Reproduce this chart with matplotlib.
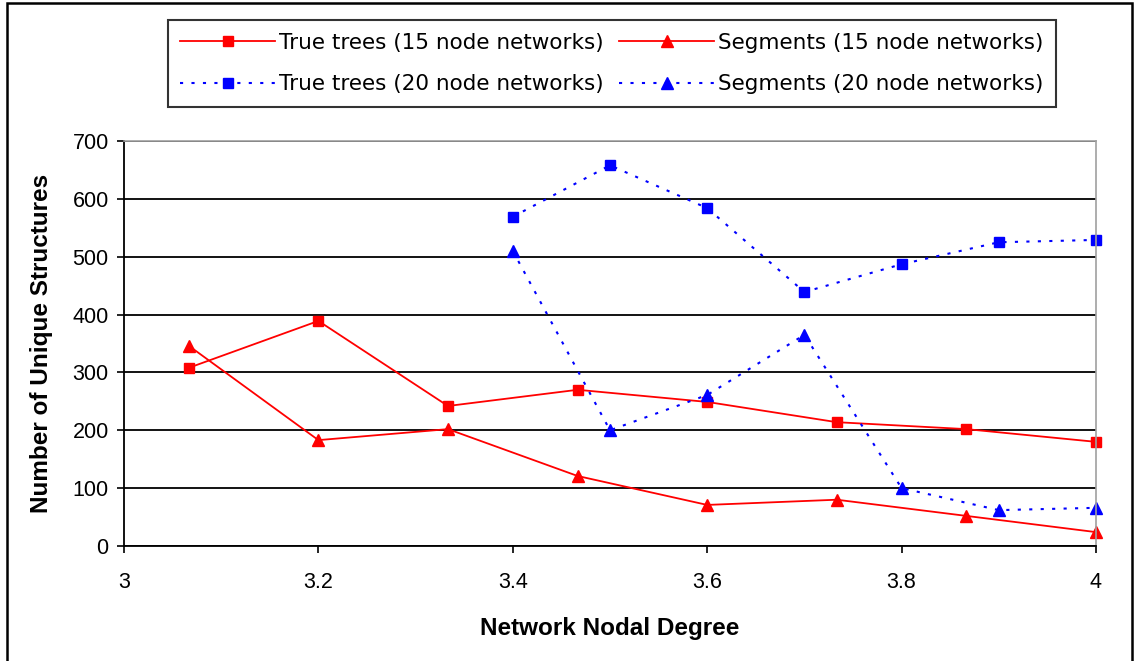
import matplotlib
matplotlib.use("Agg")
import matplotlib.pyplot as plt
from matplotlib.patches import Rectangle

plt.rcParams['font.family'] = ['Liberation Sans', 'DejaVu Sans']

x15 = [3.0667, 3.2, 3.3333, 3.4667, 3.6, 3.7333, 3.8667, 4.0]
trees15 = [308, 389, 242, 270, 249, 214, 202, 180]
segs15 = [346, 183, 202, 121, 71, 80, 52, 24]

x20 = [3.4, 3.5, 3.6, 3.7, 3.8, 3.9, 4.0]
trees20 = [569, 658, 584, 439, 487, 525, 529]
segs20 = [510, 200, 261, 365, 100, 62, 66]

labels = ["True trees (15 node networks)", "Segments (15 node networks)",
          "True trees (20 node networks)", "Segments (20 node networks)"]

W, H = 1136, 661
fig = plt.figure(figsize=(W / 100, H / 100), dpi=100)
ax = fig.add_axes([124 / W, 1 - 546 / H, (1096 - 124) / W, (546 - 141) / H])

dots = (0, (1.5, 4.0))
l1, = ax.plot(x15, trees15, color='#ff0000', lw=1.3, marker='s', ms=7, mec='#ff0000', mfc='#ff0000')
l2, = ax.plot(x15, segs15, color='#ff0000', lw=1.3, marker='^', ms=8, mec='#ff0000', mfc='#ff0000')
l3, = ax.plot(x20, trees20, color='#0000ff', lw=1.5, ls=dots, marker='s', ms=7, mec='#0000ff', mfc='#0000ff')
l4, = ax.plot(x20, segs20, color='#0000ff', lw=1.5, ls=dots, marker='^', ms=8, mec='#0000ff', mfc='#0000ff')

for ln in (l1, l2, l3, l4):
    ln.set_clip_on(False)

ax.set_xlim(3, 4)
ax.set_ylim(0, 700)
ax.set_xticks([3, 3.2, 3.4, 3.6, 3.8, 4])
ax.set_xticklabels(["3", "3.2", "3.4", "3.6", "3.8", "4"])
ax.set_yticks(range(0, 701, 100))
ax.yaxis.grid(True, color='black', lw=1.3)
ax.set_axisbelow(True)
ax.tick_params(axis='both', direction='out', length=5, width=1.2, labelsize=15.5, colors='black')
ax.tick_params(axis='x', pad=14)
ax.tick_params(axis='y', pad=6)
for s in ('top', 'right'):
    ax.spines[s].set_color('#a0a0a0')
    ax.spines[s].set_linewidth(1.2)
for s in ('left', 'bottom'):
    ax.spines[s].set_color('black')
    ax.spines[s].set_linewidth(1.3)

ax.set_xlabel("Network Nodal Degree", fontsize=17.5, fontweight='bold', labelpad=17)
ax.set_ylabel("Number of Unique Structures", fontsize=17.5, fontweight='bold', labelpad=14)

leg = fig.legend([l1, l3, l2, l4], [labels[0], labels[2], labels[1], labels[3]],
                 ncol=2, loc='center',
                 bbox_to_anchor=((167 + 1057) / 2 / W, 1 - 63.5 / H),
                 prop={'family': 'DejaVu Sans', 'size': 15.5},
                 frameon=True, fancybox=False, edgecolor='black',
                 handlelength=4.4, columnspacing=0.7, handletextpad=0.2,
                 borderpad=0.6, labelspacing=1.0, borderaxespad=0)
leg.get_frame().set_linewidth(1.5)

fig.patches.append(Rectangle((7 / W, -0.05), (1132 - 7) / W, 1.05 - 3 / H,
                             transform=fig.transFigure, fill=False,
                             edgecolor='black', lw=1.8))

fig.savefig("out.png", dpi=100)
